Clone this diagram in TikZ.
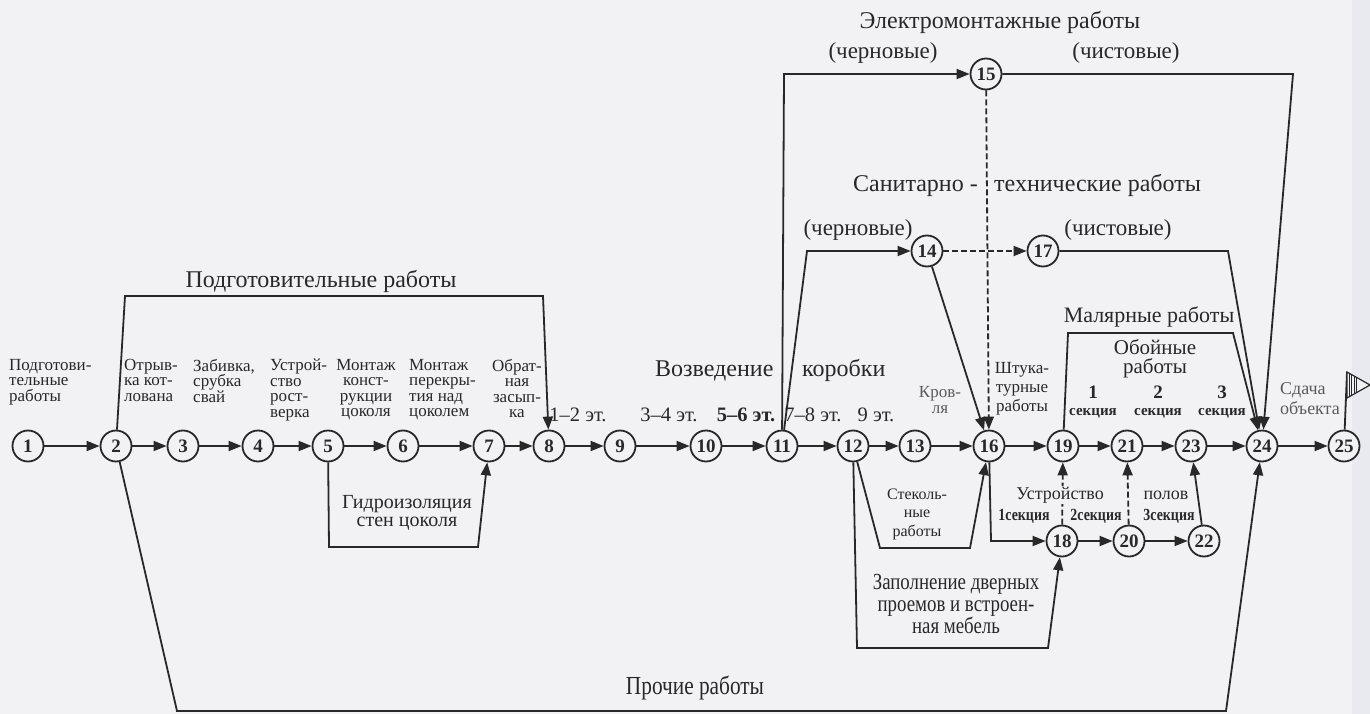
\documentclass[tikz,border=0pt]{standalone}
\usepackage{fontspec}
\setmainfont{Liberation Serif}
\newfontfamily\narrowfont[FakeStretch=0.82]{Liberation Serif}
\usetikzlibrary{arrows.meta}
\definecolor{paper}{RGB}{242,242,245}
\definecolor{pedge}{RGB}{232,234,239}
\definecolor{ink}{RGB}{40,40,40}
\definecolor{inkl}{RGB}{90,90,90}
\begin{document}
\begin{tikzpicture}[x=1pt,y=-1pt,
    ev/.style={circle,draw=ink,line width=1.8pt,fill=paper,inner sep=0pt,
      minimum size=31pt,text=ink,font=\fontsize{19}{19}\selectfont\bfseries},
    arr/.style={draw=ink,line width=1.8pt,-{Triangle[length=13pt,width=10pt]}},
    lnk/.style={draw=ink,line width=1.8pt},
    dsh/.style={dash pattern=on 6pt off 3pt},
    lbl/.style={text=ink,inner sep=0pt,font=\fontsize{17}{15.5}\selectfont},
    flr/.style={text=ink,inner sep=0pt,font=\fontsize{20.5}{20}\selectfont},
    ttl/.style={text=ink,inner sep=0pt,font=\fontsize{24}{26}\selectfont},
    sub/.style={text=ink,inner sep=0pt,font=\fontsize{23}{25}\selectfont},
    sec/.style={text=ink,inner sep=0pt,font=\fontsize{15}{17}\selectfont\bfseries},
    ssec/.style={text=ink,inner sep=0pt,font=\narrowfont\fontsize{17}{17}\selectfont\bfseries},
    nrw/.style={text=ink,inner sep=0pt,font=\narrowfont\fontsize{23}{22}\selectfont}]
  \fill[paper] (0,0) rectangle (1370,714);
  \fill[pedge] (1352,0) rectangle (1370,714);
  \useasboundingbox (0,0) rectangle (1370,714);

  % события
  \node[ev] (n1) at (28,446) {1};
  \node[ev] (n2) at (116,446) {2};
  \node[ev] (n3) at (183,446) {3};
  \node[ev] (n4) at (258,446) {4};
  \node[ev] (n5) at (328,446) {5};
  \node[ev] (n6) at (403,446) {6};
  \node[ev] (n7) at (489,446) {7};
  \node[ev] (n8) at (549,446) {8};
  \node[ev] (n9) at (620,446) {9};
  \node[ev] (n10) at (706,446) {10};
  \node[ev] (n11) at (782,446) {11};
  \node[ev] (n12) at (853,446) {12};
  \node[ev] (n13) at (915,446) {13};
  \node[ev] (n16) at (989,446) {16};
  \node[ev] (n19) at (1063,446) {19};
  \node[ev] (n21) at (1127,446) {21};
  \node[ev] (n23) at (1191,446) {23};
  \node[ev] (n24) at (1262,446) {24};
  \node[ev] (n25) at (1344,446) {25};
  \node[ev] (n15) at (986,74) {15};
  \node[ev] (n14) at (927,251) {14};
  \node[ev] (n17) at (1043,251) {17};
  \node[ev] (n18) at (1062,541) {18};
  \node[ev] (n20) at (1129,541) {20};
  \node[ev] (n22) at (1204,541) {22};

  % основная цепочка
  \foreach \a/\b in {1/2,2/3,3/4,4/5,5/6,6/7,7/8,8/9,9/10,10/11,11/12,12/13,
      13/16,16/19,19/21,21/23,23/24,24/25,18/20,20/22}
    \draw[arr] (n\a) -- (n\b);

  % обходы
  \coordinate (p2) at (125,296);
  \coordinate (p8) at (543,296);
  \draw[arr] (n2) -- (p2) -- (p8) -- (n8);
  \coordinate (h5) at (329,547);
  \coordinate (h7) at (478,547);
  \draw[arr] (n5) -- (h5) -- (h7) -- (n7);
  \coordinate (e11) at (784,74);
  \draw[arr] (n11) -- (e11) -- (n15);
  \coordinate (s11) at (807,251);
  \draw[arr] (n11) -- (s11) -- (n14);
  \draw[arr,dsh] (n14) -- (n17);
  \draw[arr] (n14) -- (n16);
  \draw[arr,dsh] (n15) -- (n16);
  \coordinate (e24) at (1293,74);
  \draw[arr] (n15) -- (e24) -- (n24);
  \coordinate (s24) at (1228,251);
  \draw[arr] (n17) -- (s24) -- (n24);
  \coordinate (m19) at (1068,333);
  \coordinate (m24) at (1233,333);
  \draw[arr] (n19) -- (m19) -- (m24) -- (n24);
  \coordinate (g12) at (880,548);
  \coordinate (g16) at (970,548);
  \draw[arr] (n12) -- (g12) -- (g16) -- (n16);
  \coordinate (d16) at (991,541);
  \draw[arr] (n16) -- (d16) -- (n18);
  \coordinate (z12) at (857,648);
  \coordinate (z18) at (1048,648);
  \draw[arr] (n12) -- (z12) -- (z18) -- (n18);
  \coordinate (o2) at (177,711);
  \coordinate (o24) at (1226,711);
  \draw[arr] (n2) -- (o2) -- (o24) -- (n24);
  \draw[arr,dsh] (n18) -- (n19);
  \draw[arr,dsh] (n20) -- (n21);
  \draw[arr] (n22) -- (n23);

  % флажок
  \coordinate (f0) at (1347,372);
  \draw[lnk] (n25) -- (f0);
  \draw[draw=ink,line width=1.2pt,fill=paper] (f0) -- (1370,385) -- (1347,398) -- cycle;
  \begin{scope}
    \clip (f0) -- (1370,385) -- (1347,398) -- cycle;
    \foreach \x in {1349,1351.5,...,1358}
      \draw[ink,line width=0.8pt] (\x,370) -- (\x,400);
  \end{scope}

  % подписи работ
  \node[lbl,anchor=north west,align=left] (tPodg) at (9,359) {Подготови-\\тельные\\работы};
  \node[lbl,anchor=north west,align=left] (tOtr) at (124,359) {Отрыв-\\ка кот-\\лована};
  \node[lbl,anchor=north west,align=left] (tZab) at (193,359) {Забивка,\\срубка\\свай};
  \node[lbl,anchor=north west,align=left] (tRost) at (270,359) {Устрой-\\ство\\рост-\\верка};
  \node[lbl,anchor=north,align=center] (tCok) at (366,359) {Монтаж\\конст-\\рукции\\цоколя};
  \node[lbl,anchor=north west,align=left] (tPer) at (409,359) {Монтаж\\перекры-\\тия над\\цоколем};
  \node[lbl,anchor=north,align=center] (tZas) at (517,359) {Обрат-\\ная\\засып-\\ка};
  \node[flr] (f12) at (578,415) {1--2 эт.};
  \node[flr] (f34) at (669,415) {3--4 эт.};
  \node[flr,font=\fontsize{20.5}{20}\selectfont\bfseries] (f56) at (746,415) {5--6 эт.};
  \node[flr] (f78) at (813,415) {7--8 эт.};
  \node[flr] (f9) at (876,415) {9 эт.};
  \node[lbl,text=inkl,align=center,font=\fontsize{17}{16}\selectfont,anchor=north]
    (tKrov) at (940,386) {Кров-\\ля};
  \node[lbl,align=center,anchor=north,font=\fontsize{17}{19}\selectfont]
    (tSht) at (1022,362) {Штука-\\турные\\работы};
  \node[sec,align=center,anchor=north] (sc1) at (1093,386) {{\fontsize{19}{19}\selectfont 1}\\секция};
  \node[sec,align=center,anchor=north] (sc2) at (1158,386) {{\fontsize{19}{19}\selectfont 2}\\секция};
  \node[sec,align=center,anchor=north] (sc3) at (1222,386) {{\fontsize{19}{19}\selectfont 3}\\секция};
  \node[lbl,text=inkl,align=left,anchor=north west,font=\fontsize{18}{20}\selectfont]
    (tSdach) at (1280,382) {Сдача\\объекта};

  % заголовки групп
  \node[ttl] (gPodg) at (321,281) {Подготовительные работы};
  \node[ttl,anchor=west] (gVozv) at (655,370) {\makebox[147pt][l]{Возведение}коробки};
  \node[ttl] (gElek) at (1000,22) {Электромонтажные работы};
  \node[sub] (gElekC) at (883,53) {(черновые)};
  \node[sub] (gElekF) at (1126,53) {(чистовые)};
  \node[ttl,anchor=west] (gSan) at (853,185) {\makebox[141pt][l]{Санитарно -}технические работы};
  \node[sub] (gSanC) at (858,230) {(черновые)};
  \node[sub] (gSanF) at (1118,230) {(чистовые)};
  \node[ttl,font=\fontsize{22}{24}\selectfont] (gMal) at (1149,317) {Малярные работы};
  \node[ttl,align=center,font=\fontsize{21}{19}\selectfont] (gOb) at (1155,359) {Обойные\\работы};

  % нижняя часть
  \node[lbl,align=center,font=\fontsize{20}{17.5}\selectfont] (tGidr) at (407,513) {Гидроизоляция\\стен цоколя};
  \node[lbl,align=center,font=\fontsize{16}{18.5}\selectfont] (tStek) at (917,514) {Стеколь-\\ные\\работы};
  \node[lbl,fill=paper,inner sep=1pt,font=\fontsize{18}{18}\selectfont] (tUstrP) at (1060,495) {Устройство};
  \node[lbl,font=\fontsize{18}{18}\selectfont] (tPol) at (1166,495) {полов};
  \node[ssec] (ss1) at (1024,516) {1секция};
  \node[ssec] (ss2) at (1096,516) {2секция};
  \node[ssec] (ss3) at (1169,516) {3секция};
  \node[nrw,align=center] (tZap) at (956,604) {Заполнение дверных\\проемов и встроен-\\ная мебель};
  \node[nrw,font=\narrowfont\fontsize{26}{26}\selectfont] (tProch) at (695,688) {Прочие работы};
\end{tikzpicture}
\end{document}
